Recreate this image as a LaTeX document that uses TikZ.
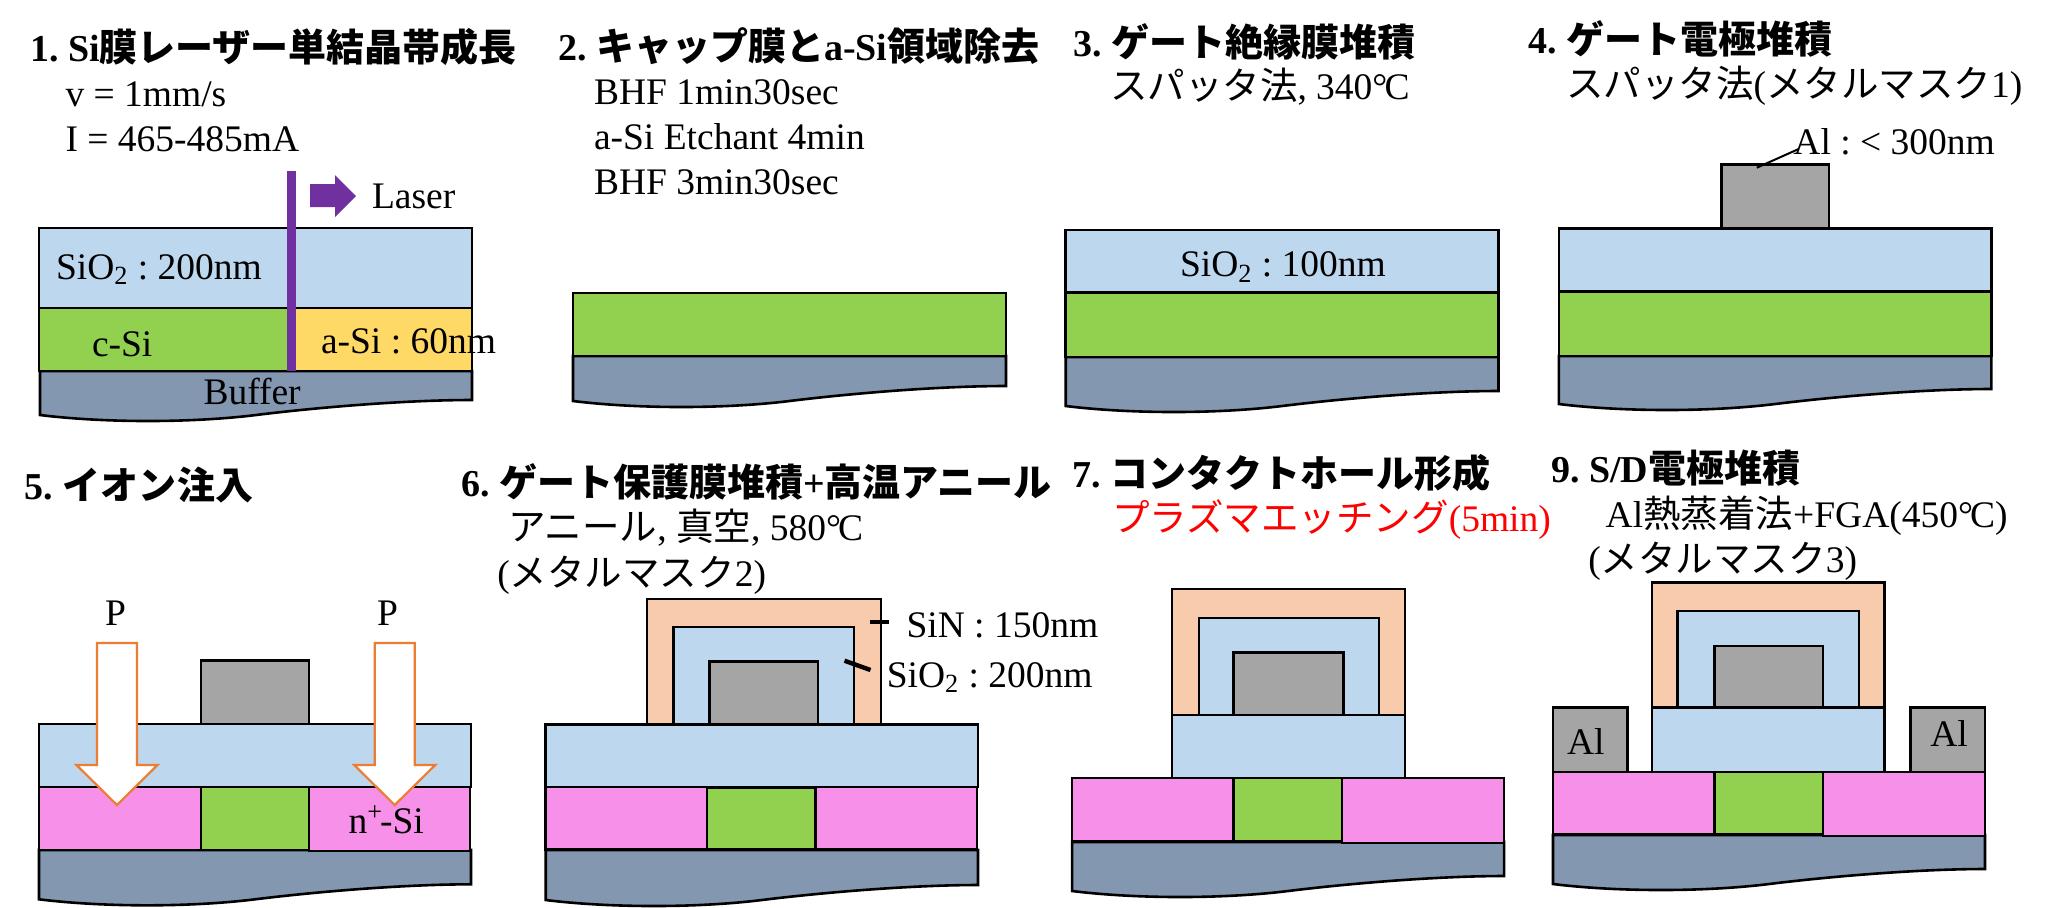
\documentclass[tikz,border=0pt]{standalone}
\usepackage{fontspec}
\setmainfont{Liberation Serif}
\newfontfamily\cjk{Noto Sans CJK JP}
\newcommand{\J}[1]{{\cjk #1}}
\newcommand{\degC}{°\kern-0.08em C}
\AtBeginDocument{\frenchspacing}
\definecolor{cSio}{HTML}{BDD7EE}
\definecolor{cGreen}{HTML}{92D050}
\definecolor{cYellow}{HTML}{FFD966}
\definecolor{cBuf}{HTML}{8497B0}
\definecolor{cGray}{HTML}{A5A5A5}
\definecolor{cSin}{HTML}{F8CBAD}
\definecolor{cPink}{HTML}{F690E8}
\definecolor{cPurple}{HTML}{7030A0}
\definecolor{cOrange}{HTML}{ED7D31}
\tikzset{
  layer/.style={draw=black,line width=1.3pt,line join=miter},
  sio/.style={layer,fill=cSio},
  grn/.style={layer,fill=cGreen},
  yel/.style={layer,fill=cYellow},
  buff/.style={layer,fill=cBuf},
  gry/.style={layer,fill=cGray},
  sin/.style={layer,fill=cSin},
  pnk/.style={layer,fill=cPink},
  implant/.style={draw=cOrange,line width=1.1pt,fill=white,line join=miter},
  lbl/.style={anchor=base west,inner sep=0pt,outer sep=0pt,font=\fontsize{18.75}{22}\selectfont,text=black},
  ttl/.style={lbl,font=\fontsize{19}{22}\selectfont\bfseries},
  tick/.style={draw=black,line width=2.2pt},
}
\newcommand{\buffer}[4]{% xL xR ytop ybotL
  \pgfmathsetmacro{\bufW}{#2-#1}
  \draw[buff] (#1,#3) -- (#2,#3) -- (#2,{#4-15})
    .. controls ({#1+0.85*\bufW},{#4-15}) and ({#1+0.65*\bufW},{#4-8}) .. ({#1+0.5*\bufW},#4)
    .. controls ({#1+0.35*\bufW},{#4+8}) and ({#1+0.15*\bufW},{#4+8}) .. (#1,#4) -- cycle;
}
\newcommand{\implantarrow}[3]{% xc ytop ytip (shaft half 20, head half 40.5)
  \draw[implant] ({#1-20},#2) -- ({#1+20},#2) -- ({#1+20},{#3-40}) -- ({#1+40.5},{#3-40})
    -- (#1,#3) -- ({#1-40.5},{#3-40}) -- ({#1-20},{#3-40}) -- cycle;
}
\begin{document}
\begin{tikzpicture}[x=0.5pt,y=-0.5pt]
\useasboundingbox (0,0) rectangle (2048,907);
% Panel 1
\draw[sio] (39,228) rectangle (472,308);
\buffer{40}{472}{371}{415}
\draw[grn] (39,308) rectangle (290,371);
\draw[yel] (290,308) rectangle (472,371);
\fill[cPurple] (287,171) rectangle (296,371);
\fill[cPurple] (310,184) -- (335,184) -- (335,175) -- (356,196) -- (335,217) -- (335,207) -- (310,207) -- cycle;
\node[ttl] (t1) at (30,61) {1. Si\J{膜レーザー単結晶帯成長}};
\node[lbl] (t1a) at (65.5,106) {v = 1mm/s};
\node[lbl] (t1b) at (65.5,151) {I = 465-485mA};
\node[lbl] (t1c) at (372,208) {Laser};
\node[lbl] (t1d) at (56,279) {SiO\textsubscript{2} : 200nm};
\node[lbl] (t1e) at (92,356) {c-Si};
\node[lbl] (t1f) at (321,353) {a-Si : 60nm};
\node[lbl] (t1g) at (203.5,404) {Buffer};
% Panel 2
\buffer{573}{1006}{356}{401}
\draw[grn] (573,293) rectangle (1006,356);
\node[ttl] (t2) at (558,60) {2. \J{キャップ膜と}a-Si\J{領域除去}};
\node[lbl] (t2a) at (594,104) {BHF 1min30sec};
\node[lbl] (t2b) at (594,149) {a-Si Etchant 4min};
\node[lbl] (t2c) at (594,194) {BHF 3min30sec};
% Panel 3
\buffer{1065.7}{1498.5}{357}{406}
\draw[sio] (1065.7,230) rectangle (1498.5,292.7);
\draw[grn] (1065.7,292.7) rectangle (1498.5,357);
\node[ttl] (t3) at (1073.4,56) {3. \J{ゲート絶縁膜堆積}};
\node[lbl] (t3a) at (1110,99) {\J{スパッタ法}, 340\degC};
\node[lbl] (t3b) at (1180,276.7) {SiO\textsubscript{2} : 100nm};
% Panel 4
\draw[gry] (1721.4,164.7) rectangle (1828.8,228.7);
\buffer{1558.8}{1991.4}{356}{404}
\draw[sio] (1558.8,228.7) rectangle (1991.4,291.7);
\draw[grn] (1558.8,291.7) rectangle (1991.4,356);
\node[ttl] (t4) at (1528.6,53) {4. \J{ゲート電極堆積}};
\node[lbl] (t4a) at (1566,97) {\J{スパッタ法}(\J{メタルマスク}1)};
\node[lbl] (t4b) at (1793.4,154) {Al : < 300nm};
\coordinate (l4a) at (1798.6,149);
\coordinate (l4b) at (1756.8,167.7);
\draw[black,line width=1pt] (l4a) -- (l4b);
% Panel 5
\draw[gry] (201,660.7) rectangle (309,724);
\buffer{39}{471}{850}{899.3}
\draw[sio] (39,724) rectangle (471,787);
\draw[pnk] (39,787) rectangle (201,850);
\draw[grn] (201,787) rectangle (309,850);
\draw[pnk] (309,787) rectangle (470,851);
\implantarrow{117}{643}{805}
\implantarrow{394.7}{643}{805}
\node[ttl] (t5) at (25,499) {5. \J{イオン注入}};
\node[lbl] (t5a) at (105,625) {P};
\node[lbl] (t5b) at (377,625) {P};
\node[lbl] (t5c) at (348.5,833) {n\textsuperscript{+}\kern-0.08em -Si};
% Panel 6
\draw[sin] (647,599) rectangle (881,724.7);
\draw[sio] (673.7,627) rectangle (854,724.7);
\draw[gry] (709.7,661.7) rectangle (818,724.7);
\buffer{545.7}{978}{850}{900}
\draw[sio] (545.7,724.7) rectangle (978,787);
\draw[grn] (707,788) rectangle (815.6,849.7);
\draw[pnk] (545.7,787) rectangle (707,849.7);
\draw[pnk] (815.6,787) rectangle (977,849.7);
\coordinate (s6a) at (870,622);
\coordinate (s6b) at (888.7,622);
\coordinate (s6c) at (844.5,660.7);
\coordinate (s6d) at (870.5,670);
\draw[tick] (s6a) -- (s6b);
\draw[tick] (s6c) -- (s6d);
\node[ttl] (t6) at (461,496.7) {6. \J{ゲート保護膜堆積}+\J{高温アニール}};
\node[lbl] (t6a) at (508,540.7) {\J{アニール}, \J{真空}, 580\degC};
\node[lbl] (t6b) at (497.4,586) {(\J{メタルマスク}2)};
\node[lbl] (t6c) at (906.5,637.7) {SiN : 150nm};
\node[lbl] (t6d) at (886.8,687) {SiO\textsubscript{2} : 200nm};
% Panel 7
\draw[sin] (1171.8,589) rectangle (1405.1,715);
\draw[sio] (1198.8,618) rectangle (1378.8,715);
\draw[gry] (1233.5,652.7) rectangle (1343.4,715);
\draw[sio] (1171.8,715) rectangle (1405.1,778);
\buffer{1072.1}{1504.1}{842}{891}
\draw[pnk] (1072.1,778) rectangle (1233.5,841.7);
\draw[grn] (1233.5,778) rectangle (1342.1,841.7);
\draw[pnk] (1342.1,778) rectangle (1504.1,843);
\node[ttl] (t7) at (1072,487) {7. \J{コンタクトホール形成}};
\node[lbl,text=red] (t7a) at (1112,531.7) {\J{プラズマエッチング}(5min)};
% Panel 9
\draw[sin] (1652,582.7) rectangle (1884.7,707.7);
\draw[sio] (1677.7,611) rectangle (1859,707.7);
\draw[gry] (1714.3,646) rectangle (1823,707.7);
\draw[sio] (1652,707.7) rectangle (1884.7,772);
\draw[gry] (1553,707.7) rectangle (1627.6,772);
\draw[gry] (1910.4,707.7) rectangle (1985,772);
\buffer{1553}{1985}{835}{884}
\draw[pnk] (1553,772) rectangle (1714.3,834.7);
\draw[grn] (1714.3,772) rectangle (1823,834.7);
\draw[pnk] (1823,772) rectangle (1985,836);
\node[ttl] (t9) at (1551,482) {9. S/D\J{電極堆積}};
\node[lbl] (t9a) at (1605.7,527) {Al\J{熱蒸着法}+FGA(450\degC)};
\node[lbl] (t9b) at (1588.3,572) {(\J{メタルマスク}3)};
\node[lbl] (t9c) at (1567,754) {Al};
\node[lbl] (t9d) at (1930.3,746.7) {Al};
\end{tikzpicture}
\end{document}
